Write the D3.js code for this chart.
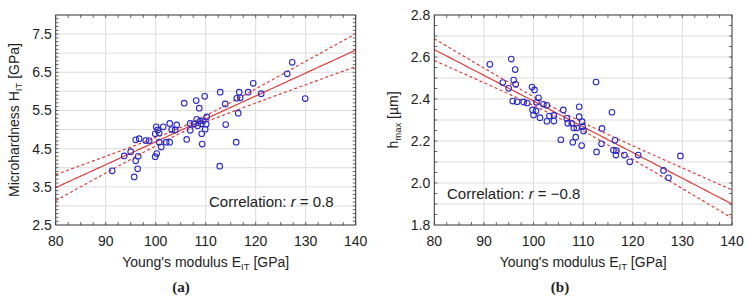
<!DOCTYPE html>
<html><head><meta charset="utf-8">
<script src="https://cdn.jsdelivr.net/npm/d3@7"></script>
<style>
html,body{margin:0;padding:0;background:#fff;}
text{font-family:"Liberation Sans",Arial,sans-serif;fill:#222;}
</style></head>
<body>
<svg id="c" width="748" height="305"></svg>
<script>
// ---- Data (a) ----
const xTicks = [80, 90, 100, 110, 120, 130, 140];
const aYTicks = [2.5, 3.5, 4.5, 5.5, 6.5, 7.5];
const aE = [91.3,93.7,95.0,95.7,96.0,96.4,96.5,96.0,96.7,98.0,98.7,99.9,100.2,99.9,100.1,100.4,100.7,100.7,101.1,101.5,102.1,102.8,102.8,103.2,103.9,104.2,105.7,106.2,106.9,106.9,107.7,108.1,108.2,108.4,108.7,108.9,109.1,109.2,109.3,109.5,109.8,109.9,110.1,110.2,112.8,112.9,113.9,114.0,116.1,116.2,116.5,116.7,116.9,118.5,119.5,121.1,126.3,127.3,129.9];
const aH = [3.92,4.31,4.42,3.76,4.18,3.97,4.30,4.73,4.76,4.71,4.71,4.29,4.37,4.89,5.07,4.99,4.91,4.67,4.54,5.07,4.67,4.67,5.16,5.00,4.99,5.12,5.69,4.74,4.98,5.16,5.15,5.76,5.27,5.10,5.56,5.23,5.15,4.89,4.62,5.23,5.87,5.01,5.14,5.33,4.04,5.98,5.67,5.13,4.67,5.82,5.43,5.98,5.83,5.98,6.21,5.94,6.46,6.76,5.81];
// fit: value at E=80, slope; band: halfwidth = sqrt(a^2 + b^2 (E-xm)^2)
const aFit = {y80: 3.48, slope: 0.06, a: 0.07, b: 0.01262, xm: 106.4};

// ---- Data (b) ----
const bYTicks = [1.8, 2.0, 2.2, 2.4, 2.6, 2.8];
const bE = [91.2,95.5,93.8,95.0,96.3,96.0,96.4,95.8,96.7,98.0,98.7,99.7,100.2,99.8,100.0,100.5,101.0,100.6,101.3,102.0,102.7,102.7,103.2,104.1,104.1,106.0,105.5,106.7,106.9,107.7,107.9,108.1,108.5,108.7,109.2,109.2,109.7,109.8,109.9,110.1,112.6,112.7,113.8,113.7,115.8,116.1,116.4,116.6,116.7,118.3,119.4,121.1,126.2,127.2,129.6];
const bH = [2.565,2.59,2.478,2.451,2.54,2.49,2.47,2.39,2.387,2.386,2.381,2.457,2.443,2.348,2.324,2.343,2.406,2.384,2.311,2.375,2.37,2.294,2.319,2.322,2.295,2.348,2.206,2.308,2.284,2.284,2.194,2.262,2.218,2.262,2.363,2.316,2.178,2.292,2.268,2.248,2.481,2.148,2.26,2.187,2.337,2.157,2.203,2.133,2.154,2.133,2.101,2.133,2.06,2.025,2.129];
const bFit = {y80: 2.635, slope: -0.01225, a: 0.018, b: 0.00189, xm: 105.8};

const svg = d3.select("#c");
svg.append("rect").attr("width",748).attr("height",305).attr("fill","#fff");

function panel(o){
  const g = svg.append("g");
  const x = d3.scaleLinear().domain([80,140]).range([o.x0,o.x1]);
  const y = d3.scaleLinear().domain(o.yDom).range([225,15]);
  // grid
  g.selectAll("line.gy").data(o.gridY).join("line")
    .attr("x1",o.x0).attr("x2",o.x1).attr("y1",d=>y(d)).attr("y2",d=>y(d))
    .attr("stroke","#dcdcdc").attr("stroke-width",1);
  g.selectAll("line.gx").data(xTicks.slice(1,-1)).join("line")
    .attr("y1",15).attr("y2",225).attr("x1",d=>x(d)).attr("x2",d=>x(d))
    .attr("stroke","#dcdcdc").attr("stroke-width",1);
  // minor ticks
  const tg = g.append("g").attr("stroke","#444").attr("stroke-width",0.8);
  o.minorY.forEach(v=>{
    tg.append("line").attr("x1",o.x0).attr("x2",o.x0+3).attr("y1",y(v)).attr("y2",y(v));
    tg.append("line").attr("x1",o.x1).attr("x2",o.x1-3).attr("y1",y(v)).attr("y2",y(v));
  });
  d3.range(80,140.01,2.5).forEach(v=>{
    tg.append("line").attr("y1",225).attr("y2",222).attr("x1",x(v)).attr("x2",x(v));
    tg.append("line").attr("y1",15).attr("y2",18).attr("x1",x(v)).attr("x2",x(v));
  });
  // fit and band
  const xs = d3.range(80,140.01,0.5);
  const f = o.fit;
  const line = d3.line().x(d=>x(d[0])).y(d=>y(d[1]));
  const yhat = e => f.y80 + f.slope*(e-80);
  const hw = e => Math.sqrt(f.a*f.a + f.b*f.b*(e-f.xm)*(e-f.xm));
  g.append("path").attr("d",line(xs.map(e=>[e,yhat(e)+hw(e)])))
    .attr("fill","none").attr("stroke","#e03a3a").attr("stroke-width",1.2).attr("stroke-dasharray","3,2.5");
  g.append("path").attr("d",line(xs.map(e=>[e,yhat(e)-hw(e)])))
    .attr("fill","none").attr("stroke","#e03a3a").attr("stroke-width",1.2).attr("stroke-dasharray","3,2.5");
  g.append("path").attr("d",line(xs.map(e=>[e,yhat(e)])))
    .attr("fill","none").attr("stroke","#e03a3a").attr("stroke-width",1.2);
  // points
  g.selectAll("circle").data(o.E.map((e,i)=>[e,o.V[i]])).join("circle")
    .attr("cx",d=>x(d[0])).attr("cy",d=>y(d[1])).attr("r",2.8)
    .attr("fill","none").attr("stroke","#2a2ac8").attr("stroke-width",1.1);
  // frame
  g.append("rect").attr("x",o.x0).attr("y",15).attr("width",o.x1-o.x0).attr("height",210)
    .attr("fill","none").attr("stroke","#333").attr("stroke-width",1);
  // tick labels
  g.selectAll("text.xt").data(xTicks).join("text")
    .attr("x",d=>x(d)).attr("y",246).attr("text-anchor","middle")
    .attr("font-size",14).text(d=>d);
  g.selectAll("text.yt").data(o.yTicks).join("text")
    .attr("x",o.x0-4).attr("y",d=>y(d)+5).attr("text-anchor","end")
    .attr("font-size",14).text(d=>o.fmt(d));
  // x title
  const xt = g.append("text").attr("x",(o.x0+o.x1)/2).attr("y",267).attr("text-anchor","middle").attr("font-size",14);
  xt.append("tspan").text("Young's modulus E");
  xt.append("tspan").attr("font-size",9.5).attr("dy",3).text("IT");
  xt.append("tspan").attr("dy",-3).text(" [GPa]");
  // y title
  const yt = g.append("text").attr("transform",`translate(${o.yTitleX},${(15+225)/2}) rotate(-90)`)
    .attr("text-anchor","middle").attr("font-size",14);
  o.yTitle(yt);
  // correlation
  const ct = g.append("text").attr("x",o.cx).attr("y",o.cy).attr("font-size",15);
  ct.append("tspan").text("Correlation: ");
  ct.append("tspan").attr("font-style","italic").text("r");
  ct.append("tspan").text(o.ctext);
  // panel label
  g.append("text").attr("x",o.labX).attr("y",292).attr("text-anchor","middle")
    .attr("font-size",15).attr("font-weight","bold")
    .style("font-family","'Liberation Serif','Times New Roman',serif").text(o.lab);
}

panel({x0:55.7,x1:355.7,yDom:[2.5,8.0],gridY:d3.range(3,8.0,0.5),minorY:d3.range(2.6,7.95,0.1),
  yTicks:aYTicks,fmt:d3.format(".1f"),E:aE,V:aH,fit:aFit,yTitleX:19,
  yTitle:t=>{t.append("tspan").text("Microhardness H");t.append("tspan").attr("font-size",9.5).attr("dy",3).text("IT");t.append("tspan").attr("dy",-3).text(" [GPa]");},
  cx:209,cy:207,ctext:" = 0.8",labX:181,lab:"(a)"});

panel({x0:434.3,x1:732,yDom:[1.8,2.8],gridY:d3.range(1.9,2.79,0.1),minorY:d3.range(1.85,2.79,0.05),
  yTicks:bYTicks,fmt:d3.format(".1f"),E:bE,V:bH,fit:bFit,yTitleX:398,
  yTitle:t=>{t.append("tspan").text("h");t.append("tspan").attr("font-size",9.5).attr("dy",3).text("max");t.append("tspan").attr("dy",-3).text(" [µm]");},
  cx:447,cy:199,ctext:" = −0.8",labX:560,lab:"(b)"});
</script>
</body></html>
